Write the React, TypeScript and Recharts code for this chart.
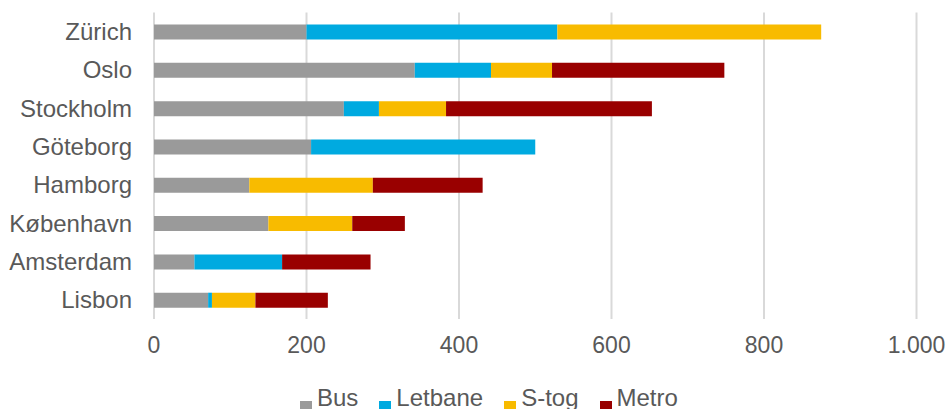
import { Bar, BarChart, CartesianGrid, Legend, XAxis, YAxis } from "recharts";

const cities = ["Zürich", "Oslo", "Stockholm", "Göteborg", "Hamborg", "København", "Amsterdam", "Lisbon"];
const bus = [200, 342, 249, 206, 125, 150, 53, 71];
const letbane = [329, 100, 46, 294, 0, 0, 115, 5];
const stog = [346, 80, 88, 0, 162, 110, 0, 57];
const metro = [0, 226, 270, 0, 144, 69, 116, 95];
const xTicks = [0, 200, 400, 600, 800, 1000];

const series = [
  { key: "bus", name: "Bus", color: "#9a9a9a" },
  { key: "letbane", name: "Letbane", color: "#00aae0" },
  { key: "stog", name: "S-tog", color: "#f8bb00" },
  { key: "metro", name: "Metro", color: "#990000" },
];

const data = cities.map((city, i) => ({
  city,
  bus: bus[i],
  letbane: letbane[i],
  stog: stog[i],
  metro: metro[i],
}));

const FONT = "'Liberation Sans', Arial, sans-serif";
const INK = "#595959";

const fmt = (v: number) => String(v).replace(/\B(?=(\d{3})+(?!\d))/g, ".");

function LegendRow() {
  return (
    <div style={{ display: "flex", fontFamily: FONT, fontSize: 24, color: INK, paddingTop: 8.5, lineHeight: "normal" }}>
      {series.map((s) => (
        <span key={s.key} style={{ display: "flex", alignItems: "flex-start", marginRight: 21 }}>
          <span style={{ width: 12, height: 12, background: s.color, marginTop: 17.5, marginRight: 5 }} />
          <span>{s.name}</span>
        </span>
      ))}
    </div>
  );
}

export default function App() {
  return (
    <div style={{ position: "absolute", left: 0, top: 0, width: 948, height: 409, background: "#fff" }}>
      <BarChart
        width={948}
        height={409}
        data={data}
        layout="vertical"
        margin={{ top: 12.5, right: 31.5, bottom: 0, left: 0 }}
        barCategoryGap={0}
      >
        <CartesianGrid horizontal={false} stroke="#d9d9d9" strokeWidth={2} />
        <XAxis
          type="number"
          domain={[0, 1000]}
          ticks={xTicks}
          tickFormatter={fmt}
          height={56}
          axisLine={false}
          tickLine={false}
          tickSize={0}
          tickMargin={18}
          tick={{ fill: INK, fontSize: 23, fontFamily: FONT }}
        />
        <YAxis
          type="category"
          dataKey="city"
          width={154}
          axisLine={false}
          tickLine={false}
          tickSize={0}
          tickMargin={22}
          tick={{ fill: INK, fontSize: 24, fontFamily: FONT }}
        />
        <Legend
          verticalAlign="bottom"
          content={() => <LegendRow />}
          wrapperStyle={{ left: 300, bottom: 0, width: 440, height: 34 }}
        />
        {series.map((s) => (
          <Bar
            key={s.key}
            dataKey={s.key}
            name={s.name}
            stackId="a"
            fill={s.color}
            barSize={15}
            isAnimationActive={false}
          />
        ))}
      </BarChart>
    </div>
  );
}
